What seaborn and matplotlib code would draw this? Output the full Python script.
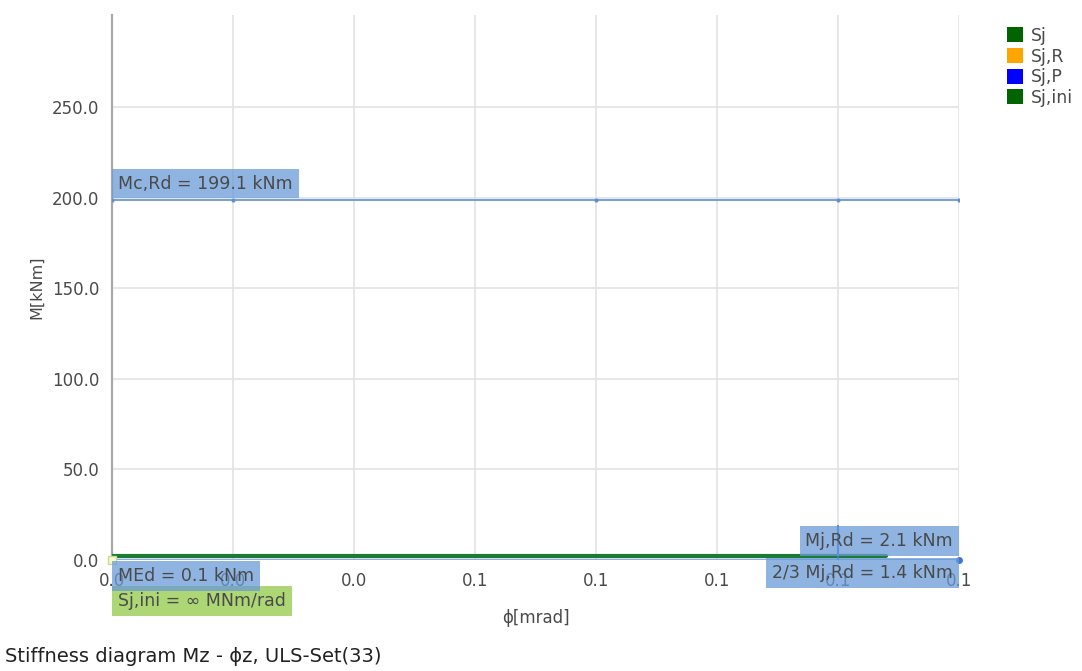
import matplotlib
matplotlib.use("Agg")
import matplotlib.pyplot as plt
from matplotlib.patches import Patch
import seaborn as sns

# ---- data ----
x_ticks = [0.0, 0.02, 0.04, 0.06, 0.08, 0.10, 0.12, 0.14]
x_tick_labels = ["0.0", "0.0", "0.0", "0.1", "0.1", "0.1", "0.1", "0.1"]
y_ticks = [0.0, 50.0, 100.0, 150.0, 200.0, 250.0]
y_tick_labels = ["0.0", "50.0", "100.0", "150.0", "200.0", "250.0"]

sj_phi = [0.0, 0.0, 0.128]
sj_M = [0.0, 2.1, 2.1]

mcrd_phi = [0.0, 0.02, 0.08, 0.12, 0.14]
mcrd_M = [199.1, 199.1, 199.1, 199.1, 199.1]

med_phi = [0.0, 0.14]
med_M = [0.1, 0.1]

mjrd_mark_phi = [0.12, 0.12]
mjrd_mark_M = [0.0, 19.0]

legend_labels = ["Sj", "Sj,R", "Sj,P", "Sj,ini"]
legend_colors = ["#006400", "#FFA500", "#0000FF", "#006400"]

label_mc = "Mc,Rd = 199.1 kNm"
label_med = "MEd = 0.1 kNm"
label_sjini = "Sj,ini = \u221e MNm/rad"
label_mj = "Mj,Rd = 2.1 kNm"
label_mj23 = "2/3 Mj,Rd = 1.4 kNm"
title = "Stiffness diagram Mz - \u03d5z, ULS-Set(33)"

# ---- plot ----
sns.set_style("white")
plt.rcParams["font.family"] = ["DejaVu Sans"]

fig = plt.figure(figsize=(10.82, 6.71), dpi=100)
ax = fig.add_axes([112 / 1082, 1 - 560 / 671, (959 - 112) / 1082, (560 - 15) / 671])

txt = "#4a4a4a"
ax.set_xlim(0.0, 0.14)
ax.set_ylim(0.0, 301.0)
ax.set_xticks(x_ticks, x_tick_labels)
ax.set_yticks(y_ticks, y_tick_labels)
ax.grid(True, color="#e3e3e3", lw=1.2)
ax.set_axisbelow(True)
for s in ["top", "right", "bottom"]:
    ax.spines[s].set_visible(False)
ax.spines["left"].set_color("#a8a8a8")
ax.spines["left"].set_linewidth(1.6)
ax.tick_params(axis="both", colors="#b0b0b0", labelcolor=txt, labelsize=12,
               length=6, width=1, pad=3)

# MEd line
sns.lineplot(x=med_phi, y=med_M, ax=ax, color="#8db0de", lw=2.5, sort=False,
             estimator=None, zorder=3)
# Sj line
sns.lineplot(x=sj_phi, y=sj_M, ax=ax, color="#1c7a34", lw=3, sort=False,
             estimator=None, zorder=4)
# Mc,Rd line
sns.lineplot(x=mcrd_phi, y=mcrd_M, ax=ax, color="#5d8fd6", lw=1.2, sort=False,
             estimator=None, marker="o", markersize=3, markeredgewidth=0, zorder=3)
# Mj,Rd marker
sns.lineplot(x=mjrd_mark_phi, y=mjrd_mark_M, ax=ax, color="#3f78d0", lw=1.5, sort=False,
             estimator=None, zorder=5)
ax.plot([0.14], [0.1], marker="o", markersize=4, color="#3f78d0", clip_on=False, zorder=6)
ax.plot([0.0], [0.0], marker="s", markersize=6, markerfacecolor="#f7f7d0",
        markeredgecolor="#c8dc90", clip_on=False, zorder=6)

blue_box = dict(boxstyle="square,pad=0.34", facecolor="#6a9bd8", edgecolor="none", alpha=0.75)
green_box = dict(boxstyle="square,pad=0.34", facecolor="#a9d46e", edgecolor="none", alpha=0.95)
fs = 12.5
ax.annotate(label_mc, xy=(0.0, 199.1), xytext=(4.3, 5), textcoords="offset points",
            ha="left", va="bottom", fontsize=fs, color=txt, bbox=blue_box, zorder=7)
ax.annotate(label_med, xy=(0.0, 0.1), xytext=(4.3, -5), textcoords="offset points",
            ha="left", va="top", fontsize=fs, color=txt, bbox=blue_box, zorder=7,
            annotation_clip=False)
ax.annotate(label_sjini, xy=(0.0, 0.1), xytext=(4.3, -23), textcoords="offset points",
            ha="left", va="top", fontsize=fs, color=txt, bbox=green_box, zorder=6,
            annotation_clip=False)
ax.annotate(label_mj, xy=(0.14, 2.1), xytext=(-4.3, 4.5), textcoords="offset points",
            ha="right", va="bottom", fontsize=fs, color=txt, bbox=blue_box, zorder=7,
            annotation_clip=False)
ax.annotate(label_mj23, xy=(0.14, 1.4), xytext=(-4.3, -4.5), textcoords="offset points",
            ha="right", va="top", fontsize=fs, color=txt, bbox=blue_box, zorder=7,
            annotation_clip=False)

ax.set_ylabel("M[kNm]", fontsize=11.5, color=txt, labelpad=6)
ax.set_xlabel("\u03d5[mrad]", fontsize=12, color=txt, labelpad=13)

handles = [Patch(facecolor=c, edgecolor="none") for c in legend_colors]
fig.legend(handles, legend_labels, loc="upper left", bbox_to_anchor=(1000 / 1082, 1 - 20 / 671),
           frameon=False, fontsize=12.5, handlelength=0.95, handleheight=0.95,
           handletextpad=0.45, labelspacing=0.15, borderaxespad=0, labelcolor=txt)

fig.text(5 / 1082, 1 - 656 / 671, title, fontsize=14, color="#222222", ha="left", va="center")

fig.savefig("out.png", dpi=100)
